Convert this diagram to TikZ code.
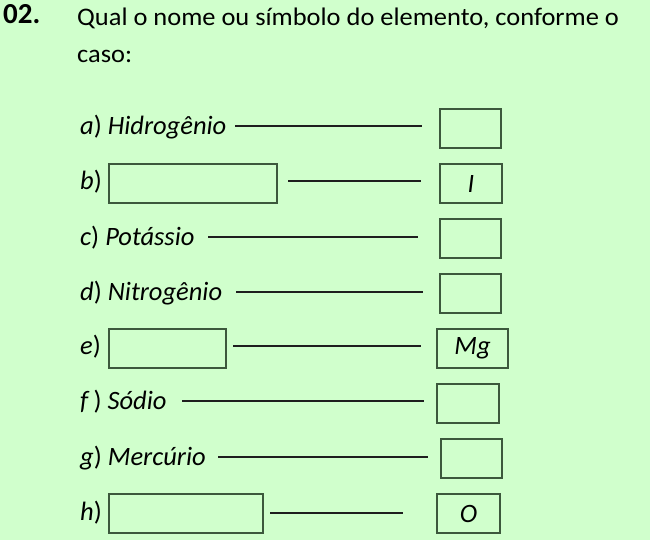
\documentclass[tikz,border=0pt]{standalone}
\usepackage{fontspec}
\setmainfont{Carlito}
\newfontfamily\titlefont[FakeStretch=1.045]{Carlito}
\definecolor{bgcol}{RGB}{208,255,204}
\definecolor{boxcol}{RGB}{60,88,60}
\definecolor{rulecol}{RGB}{30,30,30}
\begin{document}
\begin{tikzpicture}[x=1pt,y=-1pt,
  lbl/.style={anchor=base west,inner sep=0pt,font=\fontsize{26.5}{30}\selectfont},
  ttl/.style={anchor=base west,inner sep=0pt,font=\titlefont\fontsize{25.3}{30}\selectfont},
  ansbox/.style={draw=boxcol,line width=1.2pt,rectangle,inner sep=0pt,minimum height=39pt,font=\fontsize{26.5}{30}\selectfont\itshape},
  rulel/.style={draw=rulecol,line width=1.1pt}]
\fill[bgcol] (0,0) rectangle (650,540);
\useasboundingbox (0,0) rectangle (650,540);
% title
\node[anchor=base west,inner sep=0pt,font=\fontsize{29}{32}\selectfont\bfseries] (num) at (3,24) {02.};
\node[ttl] (t1) at (77,26) {Qual o nome ou símbolo do elemento, conforme o};
\node[ttl] (t2) at (77,63) {caso:};
% a
\node[lbl] (la) at (80,134.5) {\textit{a}) \textit{Hidrogênio}};
\node[ansbox,minimum width=61pt] (ra) at (470.5,128.5) {};
\coordinate (a1) at (235,126); \coordinate (a2) at (422,126);
\draw[rulel] (a1) -- (a2);
% b
\node[lbl] (lb) at (80,189.5) {\textit{b})};
\node[ansbox,minimum width=168pt] (mb) at (193,183.5) {};
\node[ansbox,minimum width=62pt] (rb) at (471,183.5) {I};
\coordinate (b1) at (288,181); \coordinate (b2) at (421,181);
\draw[rulel] (b1) -- (b2);
% c
\node[lbl] (lc) at (80,245.5) {\textit{c}) \textit{Potássio}};
\node[ansbox,minimum width=61pt] (rc) at (470.5,238.5) {};
\coordinate (c1) at (208,237); \coordinate (c2) at (418,237);
\draw[rulel] (c1) -- (c2);
% d
\node[lbl] (ld) at (80,300.5) {\textit{d}) \textit{Nitrogênio}};
\node[ansbox,minimum width=61pt] (rd) at (470.5,293.5) {};
\coordinate (d1) at (236,292); \coordinate (d2) at (423,292);
\draw[rulel] (d1) -- (d2);
% e
\node[lbl] (le) at (80,354.5) {\textit{e})};
\node[ansbox,minimum width=117pt] (me) at (167.5,348.5) {};
\node[ansbox,minimum width=71pt] (re) at (472.5,348.5) {Mg};
\coordinate (e1) at (233,346); \coordinate (e2) at (421,346);
\draw[rulel] (e1) -- (e2);
% f
\node[lbl] (lf) at (80,409.5) {\textit{f}\kern4pt) \textit{Sódio}};
\node[ansbox,minimum width=62pt] (rf) at (468,403.5) {};
\coordinate (f1) at (182,401); \coordinate (f2) at (424,401);
\draw[rulel] (f1) -- (f2);
% g
\node[lbl] (lg) at (80,465.5) {\textit{g}) \textit{Mercúrio}};
\node[ansbox,minimum width=61pt] (rg) at (471.5,458.5) {};
\coordinate (g1) at (218,457); \coordinate (g2) at (428,457);
\draw[rulel] (g1) -- (g2);
% h
\node[lbl] (lh) at (80,520.5) {\textit{h})};
\node[ansbox,minimum width=154pt] (mh) at (186,513.5) {};
\node[ansbox,minimum width=63pt] (rh) at (468.5,513.5) {O};
\coordinate (h1) at (270,513); \coordinate (h2) at (403,513);
\draw[rulel] (h1) -- (h2);
\end{tikzpicture}
\end{document}
